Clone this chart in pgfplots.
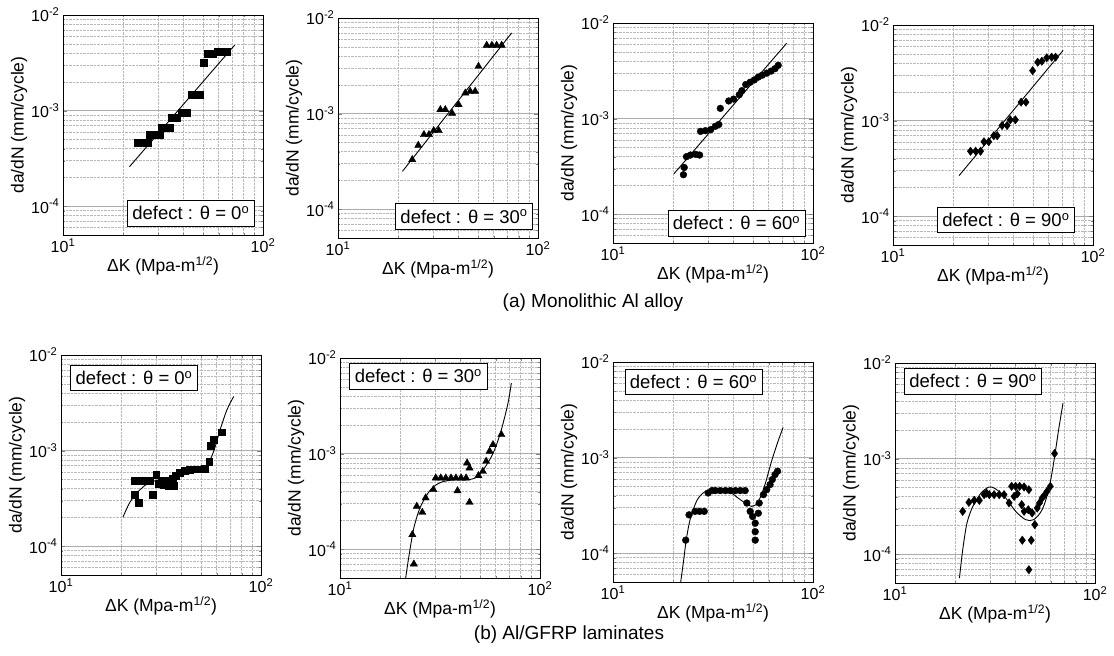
\documentclass[border=0pt]{standalone}
\usepackage{pgfplots}
\pgfplotsset{compat=1.18}
\usepackage{fontspec}
\setmainfont{Liberation Sans}

% one panel: #1 = position of the top-left corner of the frame
\newcommand\crackaxis[1]{\begin{axis}[
    at={#1}, anchor=north west,
    xmode=log, ymode=log,
    width=200pt, height=220pt, scale only axis,
    xmin=10, xmax=100, ymin=5e-5, ymax=1e-2,
    xtick={10,100}, xticklabels={10\textsuperscript{1},10\textsuperscript{2}},
    ytick={1e-4,1e-3,1e-2},
    yticklabels={10\textsuperscript{-4},10\textsuperscript{-3},10\textsuperscript{-2}},
    minor xtick={20,30,40,50,60,70,80,90},
    minor ytick={6e-5,7e-5,8e-5,9e-5,2e-4,3e-4,4e-4,5e-4,6e-4,7e-4,8e-4,9e-4,2e-3,3e-3,4e-3,5e-3,6e-3,7e-3,8e-3,9e-3},
    grid=both,
    major grid style={gray!65, line width=0.5pt},
    minor grid style={gray!55, densely dotted, line width=0.4pt},
    tick align=inside, major tick length=4pt, minor tick length=2.5pt,
    axis line style={black, line width=1pt},
    xticklabel style={font=\fontsize{16}{18}\selectfont},
    yticklabel style={font=\fontsize{16}{18}\selectfont},
    xlabel style={font=\fontsize{17.5}{20}\selectfont, yshift=3pt},
    ylabel style={font=\fontsize{17.5}{20}\selectfont, yshift=-3pt},
    xlabel={ΔK (Mpa-m\textsuperscript{1/2})},
    ylabel={da/dN (mm/cycle)},
  ]}
\tikzset{
  fitline/.style={black, line width=0.9pt},
  datapts/.style={black, mark size=3.4pt},
  tagbox/.style={draw=black, fill=white, line width=0.7pt, inner xsep=5pt, inner ysep=6pt,
    font=\fontsize{18.5}{21}\selectfont},
}

\begin{document}
\begin{tikzpicture}
\path[use as bounding box] (0,0) rectangle (1114pt,-656pt);

% ---------------- (a) monolithic ----------------
\crackaxis{(63pt,-15pt)}
\addplot[fitline, no marks] coordinates {(21.5,2.59e-4) (72.2,4.85e-3)};
\addplot[datapts, only marks, mark=square*] coordinates {
 (23.7,4.6e-4) (25.1,4.6e-4) (26.6,4.6e-4)
 (27.1,5.65e-4) (28.7,5.65e-4) (30.4,5.65e-4)
 (31.0,6.62e-4) (32.9,6.62e-4) (34.1,6.62e-4)
 (34.8,8.5e-4) (36.9,8.5e-4)
 (39.1,9.5e-4) (41.4,9.5e-4)
 (43.8,1.48e-3) (46.4,1.48e-3) (48.2,1.48e-3)
 (50.5,3.17e-3)
 (53.1,3.91e-3) (56.2,3.91e-3)
 (59.6,4.13e-3) (63.1,4.13e-3) (65.6,4.13e-3)
};
\node[tagbox, anchor=south east] at (rel axis cs:0.958,0.04) {defect : θ = 0\textsuperscript{o}};
\end{axis}

\crackaxis{(338pt,-18pt)}
\addplot[fitline, no marks] coordinates {(21.0,2.49e-4) (73.8,6.97e-3)};
\addplot[datapts, only marks, mark=triangle*, mark size=4.2pt] coordinates {
 (23.5,3.3e-4) (25.2,4.66e-4) (26.9,6.03e-4) (28.5,6.03e-4)
 (30.1,6.64e-4) (31.9,6.64e-4) (32.5,1.10e-3) (34.4,1.10e-3)
 (37.2,1.01e-3) (40.1,1.24e-3)
 (43.3,1.64e-3) (45.8,1.71e-3) (48.5,1.71e-3)
 (50.4,3.12e-3)
 (55.4,5.18e-3) (58.8,5.18e-3) (62.1,5.18e-3) (65.8,5.18e-3)
};
\node[tagbox, anchor=south east] at (rel axis cs:0.975,0.038) {defect : θ = 30\textsuperscript{o}};
\end{axis}

\crackaxis{(613pt,-23pt)}
\addplot[fitline, no marks] coordinates {(20.2,2.66e-4) (73.8,6.13e-3)};
\addplot[datapts, only marks, mark=*] coordinates {
 (22.5,2.59e-4) (22.7,3.08e-4)
 (23.3,4.0e-4) (24.4,4.16e-4) (25.9,4.23e-4) (27.1,4.16e-4)
 (27.4,7.36e-4) (29.0,7.48e-4) (30.8,7.67e-4)
 (32.5,8.32e-4) (33.8,8.67e-4)
 (34.4,1.28e-3) (37.9,1.53e-3) (40.1,1.60e-3)
 (42.8,1.78e-3) (44.1,1.96e-3)
 (46.1,2.27e-3) (48.5,2.40e-3) (50.9,2.54e-3) (53.3,2.72e-3)
 (55.8,2.85e-3) (58.7,2.99e-3) (61.7,3.14e-3) (64.6,3.33e-3) (67.0,3.61e-3)
};
\node[tagbox, anchor=south east] at (rel axis cs:0.962,0.03) {defect : θ = 60\textsuperscript{o}};
\end{axis}

\crackaxis{(893pt,-25pt)}
\addplot[fitline, no marks] coordinates {(21.4,2.66e-4) (70.9,5.43e-3)};
\addplot[datapts, only marks, mark=diamond*, mark size=4.2pt] coordinates {
 (24.4,4.78e-4) (25.9,4.78e-4) (27.4,4.78e-4)
 (28.5,6.01e-4) (30.1,6.01e-4)
 (31.9,6.95e-4) (33.2,6.95e-4)
 (35.1,8.89e-4) (37.2,8.89e-4)
 (38.6,1.02e-3) (40.9,1.02e-3)
 (43.7,1.56e-3) (46.2,1.56e-3)
 (49.9,3.33e-3)
 (52.9,4.08e-3) (55.5,4.18e-3)
 (58.7,4.54e-3) (62.1,4.61e-3) (65.0,4.61e-3)
};
\node[tagbox, anchor=south east] at (rel axis cs:0.909,0.054) {defect : θ = 90\textsuperscript{o}};
\end{axis}

\node[font=\fontsize{19}{22}\selectfont] at (593pt,-303pt) {(a) Monolithic Al alloy};

% ---------------- (b) Al/GFRP ----------------
\crackaxis{(61pt,-355pt)}
\addplot[fitline, no marks, smooth] coordinates {
 (20.4,2.01e-4) (22.1,2.88e-4) (24.4,3.75e-4) (27.4,4.58e-4) (32.1,5.04e-4)
 (39.0,5.46e-4) (47.4,6.01e-4) (53.3,6.93e-4) (57.7,9.53e-4) (62.5,1.66e-3)
 (67.6,2.68e-3) (73.1,3.69e-3)
};
\addplot[datapts, only marks, mark=square*] coordinates {
 (24.4,2.84e-4) (23.4,3.43e-4) (28.7,3.47e-4)
 (23.4,4.84e-4) (24.8,4.84e-4) (26.4,4.84e-4) (27.9,4.84e-4)
 (29.9,5.58e-4)
 (30.8,4.48e-4) (32.7,4.37e-4) (34.7,4.30e-4) (36.8,4.30e-4)
 (31.8,4.84e-4) (34.0,4.84e-4) (36.3,5.04e-4)
 (37.5,5.46e-4) (39.3,5.92e-4)
 (41.4,6.15e-4) (43.9,6.30e-4) (46.5,6.40e-4) (49.3,6.40e-4) (52.3,6.50e-4)
 (55.1,7.62e-4) (56.0,1.12e-3) (58.2,1.29e-3) (63.7,1.56e-3)
};
\node[tagbox, anchor=north west] at (rel axis cs:0.046,0.955) {defect : θ = 0\textsuperscript{o}};
\end{axis}

\crackaxis{(340pt,-358pt)}
\addplot[fitline, no marks, smooth] coordinates {
 (21.3,5.0e-5) (22.1,8.41e-5) (23.4,1.67e-4) (25.3,2.81e-4) (28.4,4.20e-4)
 (31.9,5.00e-4) (37.2,5.33e-4) (43.5,5.33e-4) (48.9,5.78e-4) (54.8,7.98e-4)
 (59.3,1.10e-3) (64.1,1.78e-3) (69.2,3.38e-3) (71.9,5.47e-3)
};
\addplot[datapts, only marks, mark=triangle*, mark size=4.2pt] coordinates {
 (23.4,7.0e-5) (23.0,1.42e-4) (24.2,2.81e-4) (25.8,2.43e-4) (26.8,3.44e-4)
 (29.3,4.20e-4)
 (30.1,5.56e-4) (31.9,5.56e-4) (33.8,5.56e-4) (35.9,5.56e-4) (38.0,5.56e-4)
 (40.3,5.56e-4) (42.7,5.56e-4)
 (38.7,4.09e-4) (44.4,3.09e-4) (43.2,7.98e-4) (44.4,7.07e-4)
 (49.2,5.88e-4) (51.8,6.52e-4) (53.8,8.30e-4) (56.0,1.06e-3) (58.2,1.24e-3)
 (64.1,1.58e-3)
};
\node[tagbox, anchor=north west] at (rel axis cs:0.047,0.977) {defect : θ = 30\textsuperscript{o}};
\end{axis}

\crackaxis{(613pt,-362pt)}
\addplot[fitline, no marks, smooth] coordinates {
 (21.8,5e-5) (22.5,8.13e-5) (23.3,1.43e-4) (24.4,2.33e-4) (26.4,3.63e-4)
 (29.0,4.44e-4) (32.5,4.62e-4) (37.9,4.44e-4) (43.3,3.63e-4) (49.4,3.09e-4)
 (53.3,3.48e-4) (57.5,5.22e-4) (62.1,9.2e-4) (67.0,1.50e-3) (70.9,2.07e-3)
};
\addplot[datapts, only marks, mark=*] coordinates {
 (23.1,1.37e-4) (24.0,2.52e-4)
 (25.7,2.74e-4) (27.1,2.74e-4) (28.6,2.74e-4)
 (29.9,4.27e-4) (31.3,4.52e-4)
 (32.5,4.52e-4) (34.4,4.52e-4) (36.5,4.52e-4) (38.6,4.52e-4) (40.9,4.52e-4)
 (43.3,4.52e-4) (45.8,4.52e-4)
 (46.7,3.35e-4) (48.5,2.74e-4) (49.9,2.42e-4)
 (51.4,2.06e-4) (51.4,1.68e-4) (51.4,1.37e-4)
 (53.3,2.62e-4) (53.8,3.35e-4)
 (56.5,4.10e-4) (58.7,4.63e-4) (61.0,5.22e-4) (62.6,5.90e-4) (64.6,6.65e-4)
 (66.5,7.21e-4)
};
\node[tagbox, anchor=north west] at (rel axis cs:0.058,0.969) {defect : θ = 60\textsuperscript{o}};
\end{axis}

\crackaxis{(895pt,-363pt)}
\addplot[fitline, no marks, smooth] coordinates {
 (21.0,5.63e-5) (21.8,1.11e-4) (22.9,2.12e-4) (24.5,3.17e-4) (26.9,4.36e-4)
 (29.6,5.05e-4) (31.9,4.81e-4) (35.8,3.87e-4) (40.1,2.81e-4) (45.0,2.30e-4)
 (49.4,2.30e-4) (54.4,2.92e-4) (58.7,4.73e-4) (62.1,9.0e-4) (65.8,2.01e-3)
 (69.2,3.82e-3)
};
\addplot[datapts, only marks, mark=diamond*, mark size=4.2pt] coordinates {
 (21.8,2.81e-4) (23.4,3.49e-4) (24.9,3.66e-4) (26.4,3.66e-4)
 (27.9,4.20e-4) (29.6,4.20e-4) (31.3,4.20e-4) (33.2,4.20e-4) (35.1,4.20e-4)
 (28.7,4.36e-4) (37.2,3.44e-4)
 (38.3,5.13e-4) (40.1,5.13e-4) (42.0,5.13e-4) (44.2,5.05e-4)
 (39.4,4.03e-4) (40.9,4.29e-4) (43.0,3.30e-4) (44.2,2.81e-4)
 (46.7,4.73e-4) (46.4,2.92e-4) (48.5,2.70e-4) (50.0,2.04e-4)
 (43.3,1.40e-4) (48.0,1.40e-4) (46.7,6.89e-5)
 (51.4,3.04e-4) (52.8,3.44e-4) (54.4,3.87e-4) (56.1,4.20e-4) (57.6,4.55e-4)
 (59.8,5.13e-4) (62.8,1.13e-3)
};
\node[tagbox, anchor=north west] at (rel axis cs:0.045,0.977) {defect : θ = 90\textsuperscript{o}};
\end{axis}

\node[font=\fontsize{19}{22}\selectfont] at (569pt,-635pt) {(b) Al/GFRP laminates};
\end{tikzpicture}
\end{document}
